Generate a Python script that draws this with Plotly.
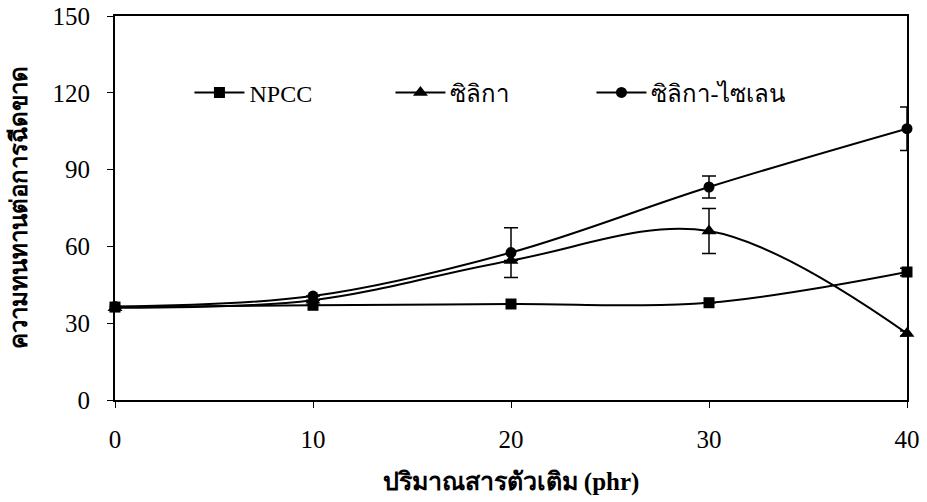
import plotly.graph_objects as go

x_vals = [0, 10, 20, 30, 40]
npcc = [36.3, 37.0, 37.5, 38.0, 50.0]
npcc_err = [0.0, 0.0, 0.0, 0.0, 1.5]
silica = [36.0, 39.0, 54.5, 66.0, 26.0]
silica_err = [0.0, 0.0, 0.0, 8.8, 1.0]
silane = [36.5, 40.6, 57.6, 83.2, 106.0]
silane_err = [0.0, 0.0, 9.7, 4.3, 8.5]

names = ["NPCC", "ซิลิกา", "ซิลิกา-ไซเลน"]
x_title = "ปริมาณสารตัวเติม (phr)"
y_title = "ความทนทานต่อการฉีดขาด"
x_ticks = [0, 10, 20, 30, 40]
y_ticks = [0, 30, 60, 90, 120, 150]

serif = "Liberation Serif, Times New Roman, serif"

fig = go.Figure()
series = [
    (npcc, npcc_err, names[0], "square", 11),
    (silica, silica_err, names[1], "triangle-up", 13),
    (silane, silane_err, names[2], "circle", 11),
]
for ys, err, nm, sym, sz in series:
    fig.add_trace(go.Scatter(
        x=x_vals, y=ys, name=nm, mode="lines+markers",
        line=dict(color="black", width=2, shape="spline", smoothing=1.0),
        marker=dict(symbol=sym, size=sz, color="black"),
        error_y=dict(type="data", array=err, visible=True, color="black",
                     thickness=1.5, width=7),
        cliponaxis=False,
    ))

fig.update_layout(
    width=927, height=502,
    margin=dict(l=115, r=20, t=16, b=102, autoexpand=False),
    paper_bgcolor="white", plot_bgcolor="white",
    font=dict(family=serif, size=25, color="black"),
    showlegend=True,
    legend=dict(orientation="h", x=0.094, y=0.80, xanchor="left", yanchor="middle",
                bgcolor="rgba(0,0,0,0)", itemwidth=50,
                entrywidth=136, entrywidthmode="pixels",
                font=dict(family=serif, size=24, color="black")),
    xaxis=dict(range=[0, 40], tickvals=x_ticks, ticks="outside", ticklen=6,
               tickwidth=1, tickcolor="black", showline=True, linecolor="black",
               linewidth=2, mirror=True, showgrid=False, zeroline=False,
               ticklabelstandoff=10, automargin=False, ticklabeloverflow="allow",
               title=dict(text=x_title, standoff=20,
                          font=dict(family=serif, size=25, color="black", weight="bold"))),
    yaxis=dict(range=[0, 150], tickvals=y_ticks, ticks="outside", ticklen=6,
               tickwidth=1, tickcolor="black", showline=True, linecolor="black",
               linewidth=2, mirror=True, showgrid=False, zeroline=False,
               ticklabelstandoff=12, automargin=False, ticklabeloverflow="allow",
               title=dict(text=y_title, standoff=18,
                          font=dict(family=serif, size=24, color="black", weight="bold"))),
)

fig.write_html("out.html", config={"displayModeBar": False},
               post_script="document.body.style.margin='0';")
